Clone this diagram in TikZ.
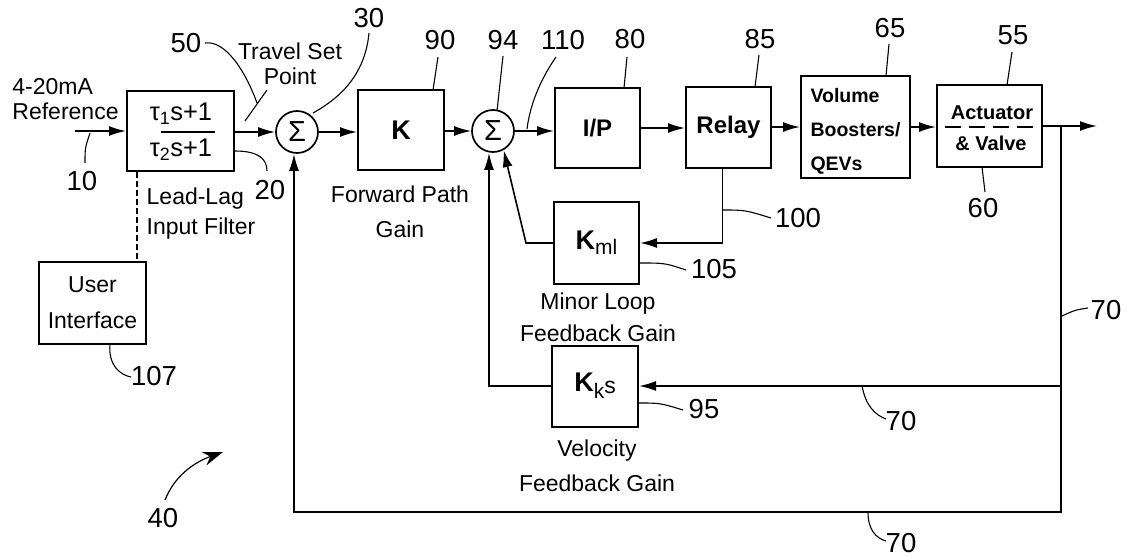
\documentclass[tikz,border=0pt]{standalone}
\usepackage{fontspec}
\setmainfont{Liberation Sans}
\usetikzlibrary{arrows.meta,calc}
\begin{document}
\begin{tikzpicture}[x=1pt,y=-1pt,
  blk/.style={draw,line width=2pt,inner sep=0pt},
  sumc/.style={draw,circle,line width=1.7pt,minimum size=42pt,inner sep=0pt,font=\fontsize{29}{29}\selectfont},
  arr/.style={line width=1.6pt,-{Latex[length=17pt,width=10pt]}},
  ld/.style={line width=1.1pt},
  num/.style={font=\fontsize{27.5}{27.5}\selectfont,inner sep=0pt},
  txt/.style={font=\fontsize{23}{23}\selectfont,inner sep=0pt},
  btxt/.style={font=\bfseries\fontsize{20}{20}\selectfont,inner sep=0pt}
]
\useasboundingbox (0,0) rectangle (1128,557);

% blocks
\node[blk,minimum width=107pt,minimum height=80pt] (ll) at (180.5,131) {};
\node[txt,font=\fontsize{25.5}{25.5}\selectfont] (llnum) at (181,114) {τ\textsubscript{1}s+1};
\node[txt,font=\fontsize{25.5}{25.5}\selectfont] (llden) at (181,150) {τ\textsubscript{2}s+1};
\coordinate (fl1) at (161,132); \coordinate (fl2) at (215,132);
\draw[line width=1.5pt] (fl1) -- (fl2);

\node[sumc] (s1) at (297,132) {\raisebox{1pt}{Σ}};
\node[blk,minimum width=86pt,minimum height=80pt,font=\bfseries\fontsize{27}{27}\selectfont] (K) at (401,130) {K};
\node[sumc] (s2) at (493,131) {\raisebox{1pt}{Σ}};
\node[blk,minimum width=85pt,minimum height=80pt,font=\bfseries\fontsize{24}{24}\selectfont] (IP) at (597.5,128) {I/P};
\node[blk,minimum width=85pt,minimum height=81pt,font=\bfseries\fontsize{24}{24}\selectfont] (relay) at (728.5,127) {Relay};
\node[blk,minimum width=109pt,minimum height=102pt] (vb) at (855.5,127) {};
\node[font=\bfseries\fontsize{19.5}{34}\selectfont,align=left,inner sep=0pt] (vbt) at (855.5,131) {Volume\\Boosters/\\QEVs};
\node[blk,minimum width=105pt,minimum height=82pt] (act) at (989.5,126) {};
\node[btxt] (actt1) at (992,113) {Actuator};
\node[btxt] (actt2) at (991,143) {\& Valve};
\coordinate (ad1) at (945,127); \coordinate (ad2) at (1036,127);
\draw[line width=1.3pt,dash pattern=on 16pt off 8pt] (ad1) -- (ad2);

\node[blk,minimum width=85pt,minimum height=82pt] (kml) at (596.5,243) {{\bfseries\fontsize{27}{27}\selectfont K}\raisebox{-5pt}{\fontsize{21}{21}\selectfont ml}};
\node[blk,minimum width=86pt,minimum height=81pt] (kks) at (595,386) {{\bfseries\fontsize{27}{27}\selectfont K}\raisebox{-7pt}{\fontsize{21}{21}\selectfont k}\raisebox{-2pt}{\fontsize{23}{23}\selectfont s}};
\node[blk,minimum width=107pt,minimum height=82pt,align=center,font=\fontsize{23}{36}\selectfont] (ui) at (92.5,303) {User\\Interface};

% signal path
\coordinate (in) at (75,131);
\coordinate (out) at (1097,126);
\coordinate (br) at (1061,126);
\coordinate (bot) at (1061,512);
\coordinate (dsh) at (137,0);
\draw[arr] (in) -- (ll.west |- in);
\draw[arr] (ll.east |- s1) -- (s1.west);
\draw[arr] (s1.east) -- (K.west |- s1);
\draw[arr] (K.east |- s2) -- (s2.west);
\draw[arr] (s2.east) -- (IP.west |- s2);
\draw[arr] (IP.east) -- (relay.west |- IP);
\draw[arr] (relay.east) -- (vb.west);
\draw[arr] (vb.east) -- (act.west |- vb);
\draw[arr] (act.east) -- (out);

% feedback
\draw[arr] ([xshift=-6pt]relay.south) |- (kml.east);
\draw[arr] (kml.west) -- ++(-27,0) -- (s2.-61);
\draw[arr] (br |- kks.east) -- (kks.east);
\draw[arr] (kks.west) -| ([xshift=-4pt]s2.south);
\draw[arr] (br) -- (bot) -| ([xshift=-3pt]s1.south);
\draw[line width=1.5pt,dash pattern=on 6pt off 3pt] (ll.south -| dsh) -- (ui.north -| dsh);

% texts
\node[txt,align=left,font=\fontsize{23}{25}\selectfont] (ref) at (65.5,99) {4-20mA\\Reference};
\node[txt,align=center,font=\fontsize{23}{25}\selectfont] (tsp) at (290,64) {Travel Set\\Point};
\node[txt,align=left,font=\fontsize{23}{30}\selectfont] (llf) at (201,214) {Lead-Lag\\Input Filter};
\node[txt,align=center,font=\fontsize{23}{35}\selectfont] (fpg) at (400,212) {Forward Path\\Gain};
\node[txt,align=center,font=\fontsize{23}{32}\selectfont] (mlf) at (598,317) {Minor Loop\\Feedback Gain};
\node[txt,align=center,font=\fontsize{23}{35}\selectfont] (vfg) at (597,466) {Velocity\\Feedback Gain};

% reference numerals
\node[num] (n10) at (82,181) {10};
\node[num] (n20) at (270,190) {20};
\node[num] (n50) at (186,43) {50};
\node[num] (n30) at (369,18) {30};
\node[num] (n90) at (440,40) {90};
\node[num] (n94) at (503,40) {94};
\node[num] (n110) at (563,40) {110};
\node[num] (n80) at (630,39) {80};
\node[num] (n85) at (760,39) {85};
\node[num] (n65) at (890,28) {65};
\node[num] (n55) at (1013,35) {55};
\node[num] (n60) at (983,208) {60};
\node[num] (n100) at (798,218) {100};
\node[num] (n105) at (714,269) {105};
\node[num] (n95) at (704,409) {95};
\node[num] (n70a) at (1106,310) {70};
\node[num] (n70b) at (901,421) {70};
\node[num] (n70c) at (901,543) {70};
\node[num] (n107) at (154,376) {107};
\node[num] (n40) at (163,518) {40};

% leaders
\draw[ld] (85,163) .. controls (85,148) .. (90,133);
\draw[ld] (235,151) .. controls (260,151) and (267,160) .. (267,171);
\draw[ld] (205,43) .. controls (225,40) and (245,70) .. (257,103);
\draw[ld] (267,90) -- (245,121);
\draw[ld] (369,33) .. controls (365,75) and (340,98) .. (313,113);
\draw[ld] (438,57) -- (433,90);
\draw[ld] (503,56) -- (497,111);
\draw[ld] (556,57) .. controls (540,80) and (530,105) .. (527,129);
\draw[ld] (627,57) -- (624,88);
\draw[ld] (759,55) -- (755,87);
\draw[ld] (889,44) -- (886,76);
\draw[ld] (1012,52) -- (1007,85);
\draw[ld] (982,167) -- (985,192);
\draw[ld] (722,210) .. controls (745,210) .. (771,218);
\draw[ld] (639,263) .. controls (665,263) .. (686,270);
\draw[ld] (638,403) .. controls (660,403) .. (683,410);
\draw[ld] (1062,316) .. controls (1075,310) .. (1088,308);
\draw[ld] (862,385) .. controls (865,405) and (875,415) .. (886,419);
\draw[ld] (868,512) .. controls (868,530) and (876,538) .. (886,541);
\draw[ld] (110,344) .. controls (108,365) and (120,375) .. (131,377);
\draw[line width=1.2pt,-{Stealth[length=20pt,width=14pt]}] (165,500) .. controls (175,475) and (195,462) .. (223,452);
\end{tikzpicture}
\end{document}
